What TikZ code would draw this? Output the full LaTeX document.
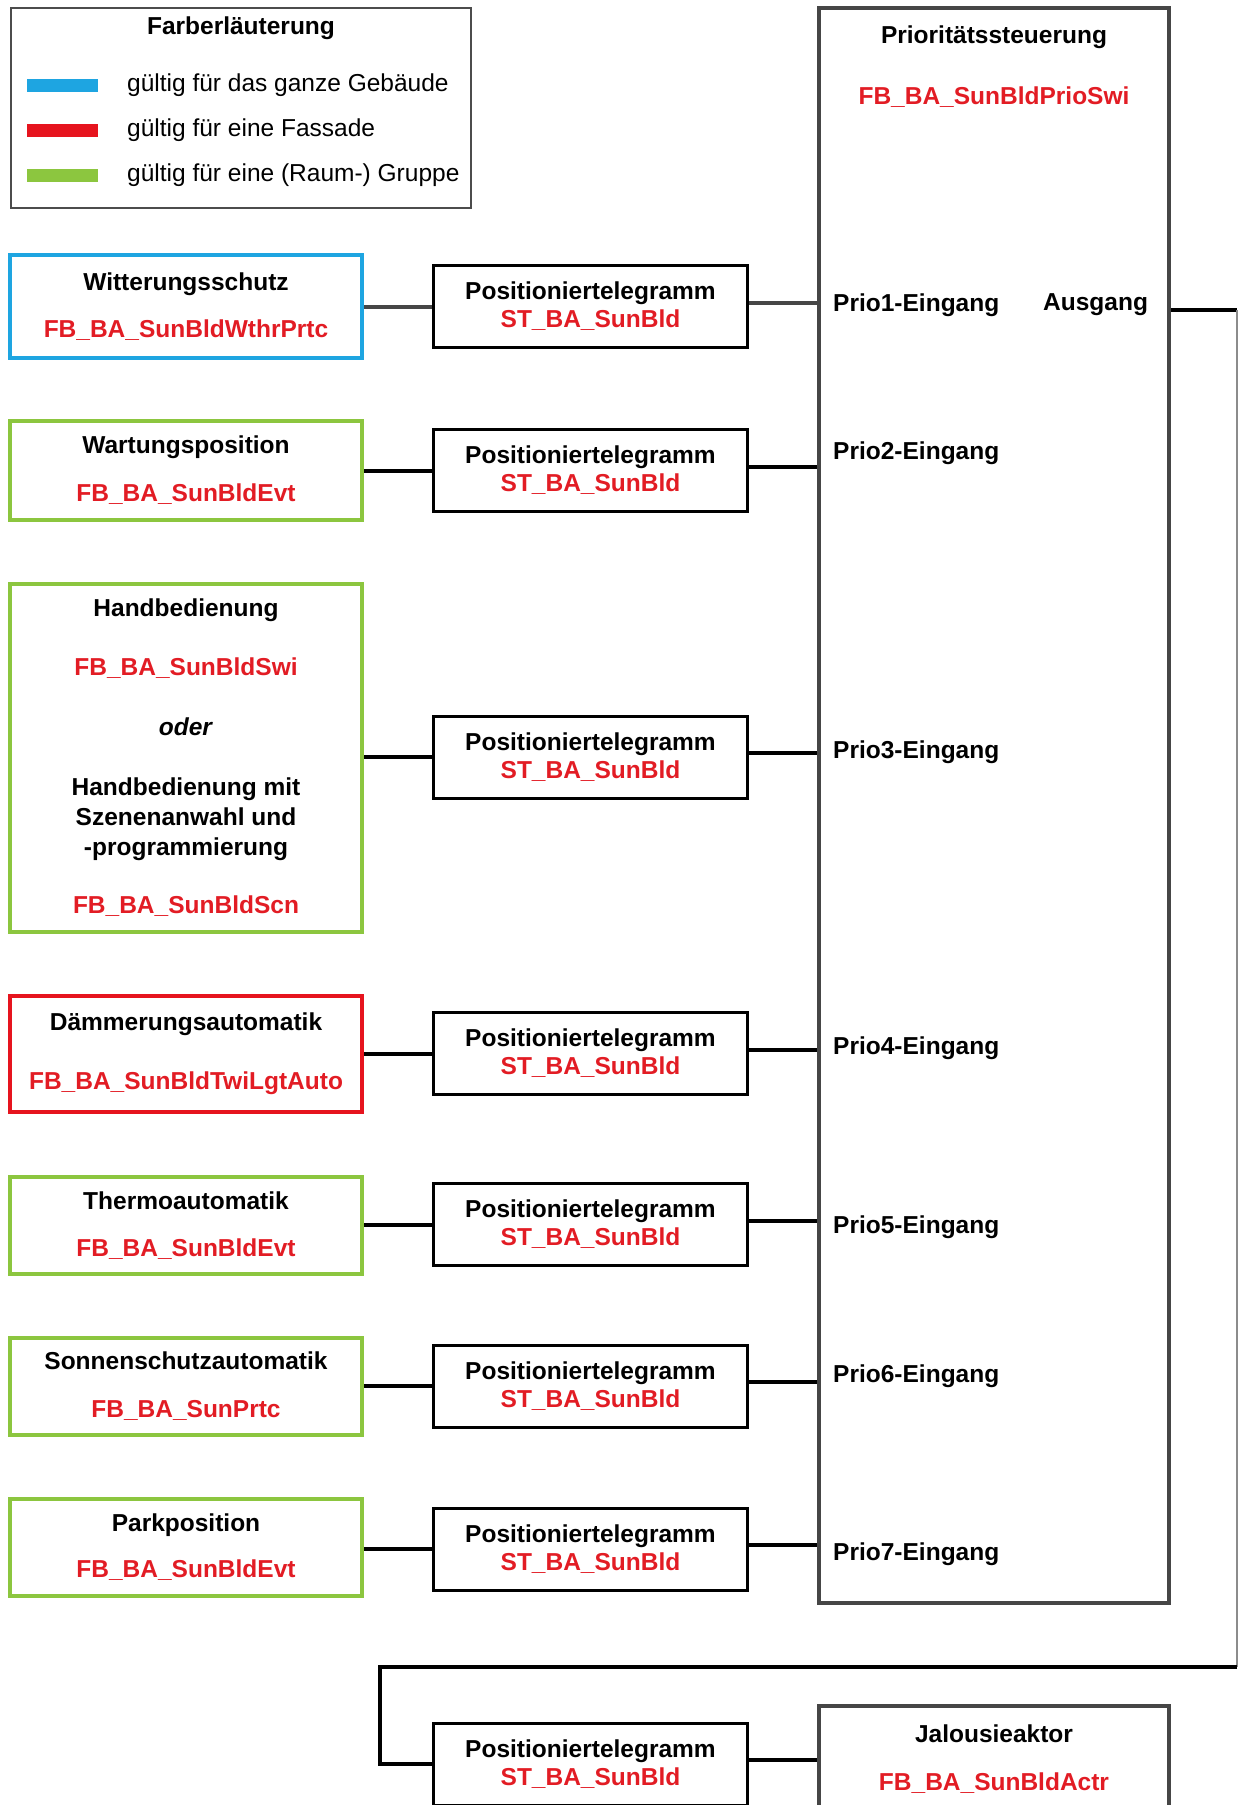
\documentclass[tikz,border=0pt]{standalone}
\usepackage{fontspec}
\setmainfont{Liberation Sans}
\usetikzlibrary{positioning}
\definecolor{bldblue}{RGB}{30,165,225}
\definecolor{facred}{RGB}{230,20,30}
\definecolor{grpgreen}{RGB}{140,198,63}
\definecolor{fbred}{RGB}{226,28,36}
\definecolor{framegray}{RGB}{70,70,70}
\newcommand{\fb}[1]{\textcolor{fbred}{#1}}

\begin{document}
\begin{tikzpicture}[x=1pt,y=-1pt,
  every node/.style={font=\fontsize{24.5}{30}\selectfont\bfseries, align=center, inner sep=0pt},
  func/.style={draw, line width=4pt, minimum width=352pt},
  tele/.style={draw=black, line width=3pt, minimum width=314pt, minimum height=82pt},
  block/.style={draw=framegray, line width=4pt, minimum width=350pt},
  legbar/.style={minimum width=71pt, minimum height=13pt},
  legtext/.style={anchor=west, font=\fontsize{24.5}{30}\selectfont},
  wire/.style={line width=4pt}]
  \useasboundingbox (0,0) rectangle (1238,1805);
  \clip (0,0) rectangle (1238,1805);

  \node[draw=black!70, line width=1.5pt, minimum width=460pt, minimum height=200pt] (legend) at (241,108) {};
  \node (legtitle) at (241,28) {Farberläuterung};
  \node[legbar, fill=bldblue] (bar1) at (62.5,85) {};
  \node[legbar, fill=facred] (bar2) at (62.5,130) {};
  \node[legbar, fill=grpgreen] (bar3) at (62.5,175) {};
  \node[legtext] (leg1) at (127,85) {gültig für das ganze Gebäude};
  \node[legtext] (leg2) at (127,130) {gültig für eine Fassade};
  \node[legtext] (leg3) at (127,175) {gültig für eine (Raum-) Gruppe};

  \node[func, draw=bldblue, minimum height=103pt] (witt) at (186,306.5) {Witterungsschutz\\[17pt]\fb{FB\_BA\_SunBldWthrPrtc}};
  \node[func, draw=grpgreen, minimum height=99pt] (wart) at (186,470.5) {Wartungsposition\\[18pt]\fb{FB\_BA\_SunBldEvt}};
  \node[func, draw=grpgreen, minimum height=348pt] (hand) at (186,758) {Handbedienung\\[29pt]\fb{FB\_BA\_SunBldSwi}\\[30pt]\textit{oder}\\[30pt]Handbedienung mit\\Szenenanwahl und\\-programmierung\\[28pt]\fb{FB\_BA\_SunBldScn}};
  \node[func, draw=facred, minimum height=116pt] (daem) at (186,1054) {Dämmerungsautomatik\\[29pt]\fb{FB\_BA\_SunBldTwiLgtAuto}};
  \node[func, draw=grpgreen, minimum height=97pt] (therm) at (186,1225.5) {Thermoautomatik\\[17pt]\fb{FB\_BA\_SunBldEvt}};
  \node[func, draw=grpgreen, minimum height=97pt] (sonn) at (186,1386.5) {Sonnenschutzautomatik\\[18pt]\fb{FB\_BA\_SunPrtc}};
  \node[func, draw=grpgreen, minimum height=97pt] (park) at (186,1547.5) {Parkposition\\[16pt]\fb{FB\_BA\_SunBldEvt}};

  \node[tele] (tel1) at (590.5,306.5) {Positioniertelegramm\\[-2pt]\fb{ST\_BA\_SunBld}};
  \node[tele] (tel2) at (590.5,470.5) {Positioniertelegramm\\[-2pt]\fb{ST\_BA\_SunBld}};
  \node[tele] (tel3) at (590.5,757) {Positioniertelegramm\\[-2pt]\fb{ST\_BA\_SunBld}};
  \node[tele] (tel4) at (590.5,1053.5) {Positioniertelegramm\\[-2pt]\fb{ST\_BA\_SunBld}};
  \node[tele] (tel5) at (590.5,1224.5) {Positioniertelegramm\\[-2pt]\fb{ST\_BA\_SunBld}};
  \node[tele] (tel6) at (590.5,1386) {Positioniertelegramm\\[-2pt]\fb{ST\_BA\_SunBld}};
  \node[tele] (tel7) at (590.5,1549) {Positioniertelegramm\\[-2pt]\fb{ST\_BA\_SunBld}};
  \node[tele] (tel8) at (590.5,1764) {Positioniertelegramm\\[-2pt]\fb{ST\_BA\_SunBld}};

  \node[block, minimum height=1595pt] (prio) at (994,805.5) {};
  \node (priotitle) at (994,37) {Prioritätssteuerung};
  \node (priofb) at (994,97) {\fb{FB\_BA\_SunBldPrioSwi}};
  \node[anchor=west] (in1) at (833,305) {Prio1-Eingang};
  \node[anchor=west] (in2) at (833,453) {Prio2-Eingang};
  \node[anchor=west] (in3) at (833,752) {Prio3-Eingang};
  \node[anchor=west] (in4) at (833,1048) {Prio4-Eingang};
  \node[anchor=west] (in5) at (833,1227) {Prio5-Eingang};
  \node[anchor=west] (in6) at (833,1376) {Prio6-Eingang};
  \node[anchor=west] (in7) at (833,1554) {Prio7-Eingang};
  \node[anchor=west] (ausg) at (1043,305) {Ausgang};

  \node[block, minimum height=106pt] (jal) at (994,1759) {Jalousieaktor\\[18pt]\fb{FB\_BA\_SunBldActr}};

  \draw[wire, framegray] (tel1.west -| witt.east) -- (tel1.west);
  \draw[wire] (tel2.west -| wart.east) -- (tel2.west);
  \draw[wire] (tel3.west -| hand.east) -- (tel3.west);
  \draw[wire] (tel4.west -| daem.east) -- (tel4.west);
  \draw[wire] (tel5.west -| therm.east) -- (tel5.west);
  \draw[wire] (tel6.west -| sonn.east) -- (tel6.west);
  \draw[wire] (tel7.west -| park.east) -- (tel7.west);

  \draw[wire, framegray] ([yshift=4pt]tel1.east) -- ([yshift=4pt]tel1.east -| prio.west);
  \draw[wire] ([yshift=4pt]tel2.east) -- ([yshift=4pt]tel2.east -| prio.west);
  \draw[wire] ([yshift=4pt]tel3.east) -- ([yshift=4pt]tel3.east -| prio.west);
  \draw[wire] ([yshift=4pt]tel4.east) -- ([yshift=4pt]tel4.east -| prio.west);
  \draw[wire] ([yshift=4pt]tel5.east) -- ([yshift=4pt]tel5.east -| prio.west);
  \draw[wire] ([yshift=4pt]tel6.east) -- ([yshift=4pt]tel6.east -| prio.west);
  \draw[wire] ([yshift=4pt]tel7.east) -- ([yshift=4pt]tel7.east -| prio.west);

  \coordinate (outA) at (1237,310);
  \coordinate (outB) at (1237,1667);
  \coordinate (outC) at (380,1667);
  \draw[wire] (outA -| prio.east) -- (outA);
  \draw[line width=1.5pt, black!45] (outA) -- (outB);
  \draw[wire] (outB) -- (outC) -- (outC |- tel8.west) -- (tel8.west);
  \draw[wire] ([yshift=4pt]tel8.east) -- ([yshift=4pt]tel8.east -| jal.west);
\end{tikzpicture}
\end{document}
